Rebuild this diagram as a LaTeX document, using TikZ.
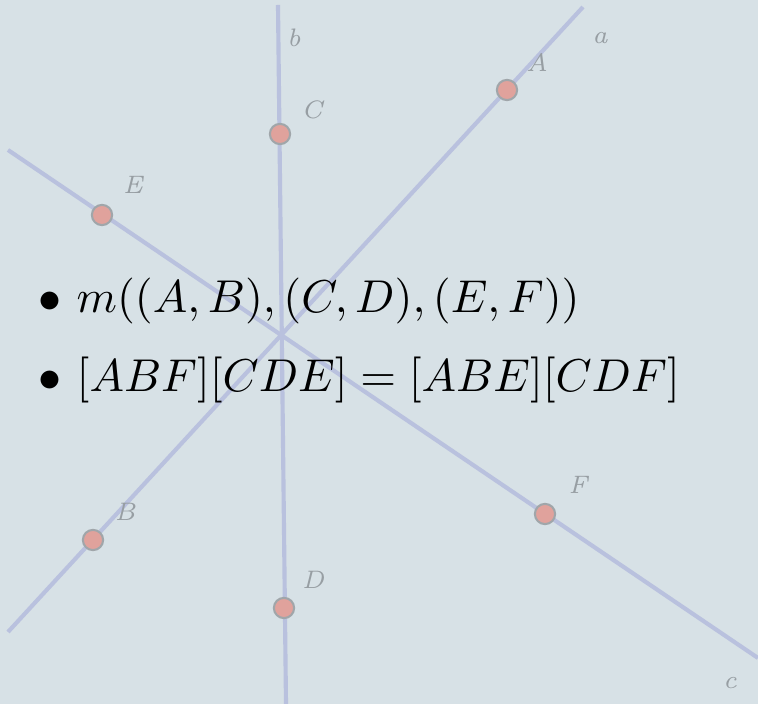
\documentclass[tikz,border=0pt]{standalone}

\definecolor{bgcol}{HTML}{D7E1E6}
\definecolor{linecol}{HTML}{B9C1DE}
\definecolor{ptfill}{HTML}{E0A29C}
\definecolor{ptdraw}{HTML}{A0A6AA}
\definecolor{lblcol}{HTML}{979EA3}

\begin{document}
\begin{tikzpicture}[
    x=0.2174pt, y=-0.2174pt,
    line/.style={linecol, line width=0.9pt},
    pt/.style={circle, fill=ptfill, draw=ptdraw, line width=0.45pt, minimum size=4.4pt, inner sep=0pt},
    lbl/.style={text=lblcol, font=\fontsize{5.5}{6.5}\selectfont\itshape, inner sep=0pt},
    txt/.style={anchor=base west, inner sep=0pt}
]

    % --- Background ---
    \fill[bgcol] (0,0) rectangle (758,704);
    \useasboundingbox (0,0) rectangle (758,704);

    % --- Line ends ---
    \coordinate (a1) at (8,632);
    \coordinate (a2) at (583,7);
    \coordinate (b1) at (278,5);
    \coordinate (b2) at (286,704);
    \coordinate (c1) at (8,150);
    \coordinate (c2) at (758,658);

    % --- Lines a, b, c ---
    \draw[line] (a1) -- (a2);
    \draw[line] (b1) -- (b2);
    \draw[line] (c1) -- (c2);

    % --- Points ---
    \node[pt] (A) at (507,90) {};
    \node[pt] (B) at (93,540) {};
    \node[pt] (C) at (280,134) {};
    \node[pt] (D) at (284,608) {};
    \node[pt] (E) at (102,215) {};
    \node[pt] (F) at (545,514) {};

    % --- Labels ---
    \node[lbl] (la) at (600,38) {a};
    \node[lbl] (lb) at (294,38) {b};
    \node[lbl] (lc) at (730,683) {c};
    \node[lbl] (lA) at (537,62) {A};
    \node[lbl] (lB) at (125,512) {B};
    \node[lbl] (lC) at (312,110) {C};
    \node[lbl] (lD) at (313,580) {D};
    \node[lbl] (lE) at (133,185) {E};
    \node[lbl] (lF) at (578,485) {F};

    % --- Statements ---
    \node[txt] (l1) at (37.5,313) {$\bullet$ $m((A,B),(C,D),(E,F))$};
    \node[txt] (l2) at (37.5,392) {$\bullet$ $[ABF][CDE]=[ABE][CDF]$};

\end{tikzpicture}
\end{document}
